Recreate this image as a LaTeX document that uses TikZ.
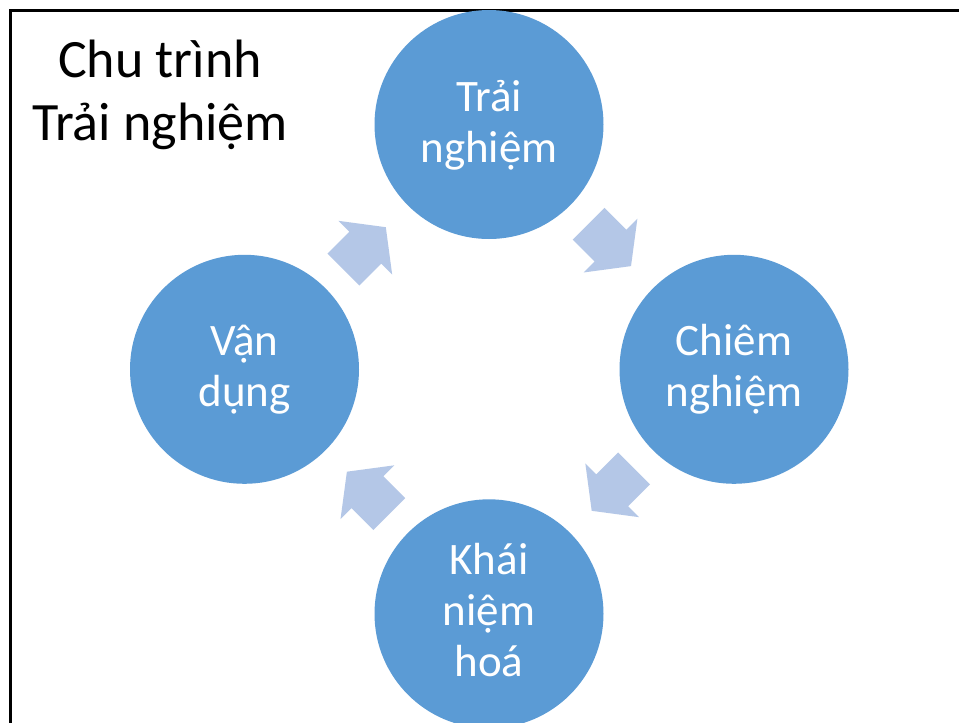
\documentclass[tikz,border=0pt]{standalone}
\usepackage{fontspec}
\setmainfont{Carlito}
\definecolor{circblue}{HTML}{5B9BD5}
\definecolor{arrblue}{HTML}{B4C7E7}
\tikzset{
  circ/.style={circle, fill=circblue, draw=none, minimum size=229pt, inner sep=0pt},
  lbl/.style={text=white, align=center, font=\fontsize{45}{51}\selectfont, inner sep=0pt},
  arrowfill/.style={fill=arrblue, draw=none},
  titletext/.style={align=center, font=\fontsize{54}{63}\selectfont, inner sep=0pt},
  frame/.style={line width=2.4pt, draw=black}
}
\newcommand{\cyclearrowpath}{(-31,-22.5) -- (0,-22.5) -- (0,-38) -- (29,0) -- (0,38) -- (0,22.5) -- (-31,22.5) -- cycle}
\begin{document}
\begin{tikzpicture}[x=1pt, y=-1pt]
\fill[white] (0,0) rectangle (959,723);
\useasboundingbox (0,0) rectangle (959,723);
\coordinate (fb) at (10.5,723);
\coordinate (fc) at (10.5,10.3);
\coordinate (fr) at (959,10.3);
\draw[frame] (fb) -- (fc) -- (fr);

\node[titletext, anchor=base] (title) at (160,140) {Chu trình\\Trải nghiệm};

\node[circ] (c1) at (489,124.5) {};
\node[circ] (c2) at (734,369.3) {};
\node[circ] (c3) at (489,613.8) {};
\node[circ] (c4) at (244.5,369.3) {};

\node[lbl, anchor=base] (l1) at (489,162.7) {Trải\\nghiệm};
\node[lbl, anchor=base] (l2) at (734,406.7) {Chiêm\\nghiệm};
\node[lbl, anchor=base] (l3) at (489,676.7) {Khái\\niệm\\hoá};
\node[lbl, anchor=base] (l4) at (244.5,406.7) {Vận\\dụng};

\fill[arrowfill, shift={(610.5,245.6)}, rotate=-45] \cyclearrowpath;
\fill[arrowfill, shift={(612.2,490.3)}, rotate=-135] \cyclearrowpath;
\fill[arrowfill, shift={(367.4,492.2)}, rotate=135] \cyclearrowpath;
\fill[arrowfill, shift={(365.3,247.7)}, rotate=45] \cyclearrowpath;
\end{tikzpicture}
\end{document}
